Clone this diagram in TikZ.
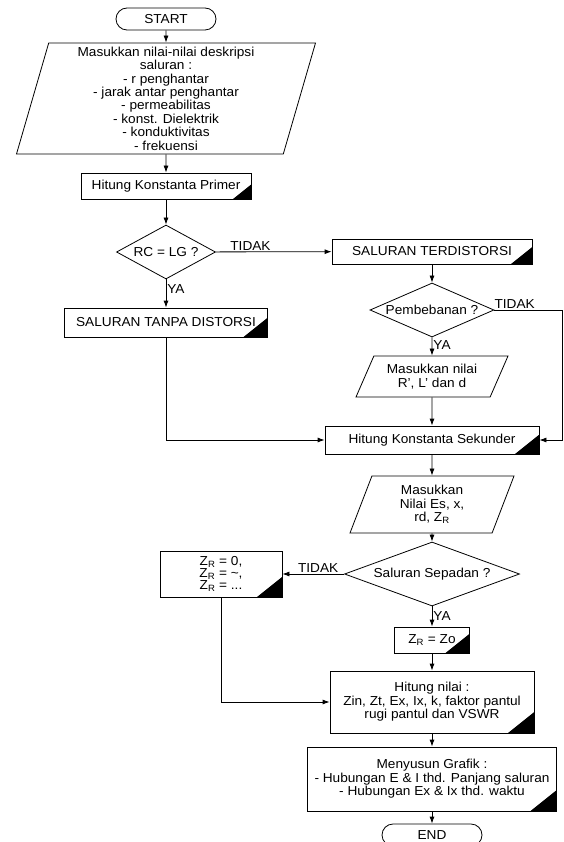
\documentclass[tikz,border=0pt]{standalone}
\usepackage{fontspec}
\setmainfont{Liberation Sans}[FakeStretch=1.05]
\usetikzlibrary{shapes.geometric, shapes.misc, arrows.meta}

\begin{document}
\begin{tikzpicture}
		[x=1pt, y=-1pt, line width=0.8pt,
		every node/.style={font=\fontsize{13}{13.4}\selectfont, align=center},
		terminal/.style={draw, rounded rectangle, minimum width=102, minimum height=22, inner sep=1pt},
		inbox/.style={draw, trapezium, trapezium left angle=#1, trapezium right angle={180-#1}, trapezium stretches body, inner sep=1pt},
		procbox/.style={draw, rectangle, inner sep=1pt, path picture={\fill (path picture bounding box.south east) -- ++(-#1,0) -- ++(#1,-0.8*#1) -- cycle;}},
		procbox/.default=24,
		decision/.style={draw, diamond, aspect=2.3, inner sep=0pt},
		flow/.style={-{Latex[length=7pt, width=5pt]}},
		lbl/.style={inner sep=1pt}]
		\useasboundingbox (0,0) rectangle (563,842);
		\node[terminal] (start) at (166,19) {START};
		\node[inbox=73, minimum width=299, minimum height=111] (masuk) at (166,98.5) {Masukkan nilai-nilai deskripsi\\saluran :\\- r penghantar\\- jarak antar penghantar\\- permeabilitas\\- konst. Dielektrik\\- konduktivitas\\- frekuensi};
		\node[procbox=18, minimum width=170, minimum height=26] (primer) at (166,186) {Hitung Konstanta Primer};
		\node[decision, minimum width=99, minimum height=54] (rclg) at (166,252) {RC = LG ?};
		\node[procbox=21, minimum width=200, minimum height=25] (terdis) at (432,251.5) {SALURAN TERDISTORSI};
		\node[procbox, minimum width=203, minimum height=29] (tanpa) at (166,322.5) {SALURAN TANPA DISTORSI};
		\node[decision, minimum width=124, minimum height=54] (beban) at (432,310) {Pembebanan ?};
		\coordinate (kanan) at (562,310);
		\node[inbox=56, minimum width=152, minimum height=41] (nilai) at (432,376.5) {Masukkan nilai\\R', L' dan d};
		\node[procbox, minimum width=214, minimum height=28] (sekunder) at (432,440) {Hitung Konstanta Sekunder};
		\node[inbox=61.5, minimum width=164, minimum height=57] (nilaies) at (432,504.5) {Masukkan\\Nilai Es, x,\\rd, Z\textsubscript{R}};
		\node[decision, minimum width=175, minimum height=64] (sepadan) at (432,574) {Saluran Sepadan ?};
		\node[procbox=25, minimum width=122, minimum height=46, font=\fontsize{13}{12}\selectfont] (zr) at (221,574) {Z\textsubscript{R} = 0,\\Z\textsubscript{R} = \textasciitilde,\\Z\textsubscript{R} = ...};
		\node[procbox, minimum width=75, minimum height=26] (zo) at (432,640) {Z\textsubscript{R} = Zo};
		\node[procbox=26, minimum width=204, minimum height=62] (hitung) at (432,702) {Hitung nilai :\\Zin, Zt, Ex, Ix, k, faktor pantul\\rugi pantul dan VSWR};
		\node[procbox=26, minimum width=249, minimum height=64] (grafik) at (432,779) {Menyusun Grafik :\\- Hubungan E \& I thd. Panjang saluran\\- Hubungan Ex \& Ix thd. waktu};
		\node[terminal] (end) at (432,835) {END};
	
		\draw[flow] (start) -- (masuk);
		\draw[flow] (masuk) -- (primer);
		\draw[flow] (primer) -- (rclg);
		\draw[flow] (rclg) -- node[lbl, pos=0.3, above] {TIDAK} (terdis);
		\draw[flow] (rclg) -- node[lbl, pos=0.35, right] {YA} (tanpa);
		\draw[flow] (terdis) -- (beban);
		\draw[flow] (beban) -- node[lbl, pos=0.4, right] {YA} (nilai);
		\draw[flow] (beban) -- node[lbl, pos=0.3, above] {TIDAK} (kanan) |- (sekunder);
		\draw[flow] (nilai) -- (sekunder);
		\draw[flow] (tanpa) |- (sekunder);
		\draw[flow] (sekunder) -- (nilaies);
		\draw[flow] (nilaies) -- (sepadan);
		\draw[flow] (sepadan) -- node[lbl, pos=0.42, above] {TIDAK} (zr);
		\draw[flow] (sepadan) -- node[lbl, pos=0.5, right] {YA} (zo);
		\draw[flow] (zo) -- (hitung);
		\draw[flow] (zr) |- (hitung);
		\draw[flow] (hitung) -- (grafik);
		\draw[flow] (grafik) -- (end);
	\end{tikzpicture}
\end{document}
